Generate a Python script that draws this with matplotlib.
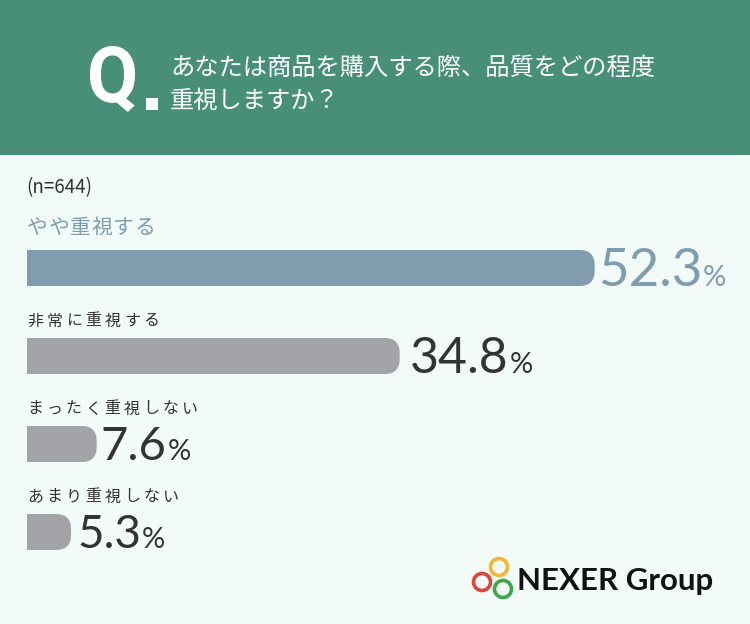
import matplotlib
matplotlib.use("Agg")
import matplotlib.pyplot as plt
from matplotlib.patches import FancyBboxPatch, Rectangle, Circle, PathPatch
from matplotlib.textpath import TextPath
from matplotlib.font_manager import FontProperties
from matplotlib.transforms import Affine2D

plt.rcParams['font.family'] = ['Noto Sans CJK JP', 'DejaVu Sans']

# data
categories = ["やや重視する", "非常に重視する", "まったく重視しない", "あまり重視しない"]
values = [52.3, 34.8, 7.6, 5.3]
question = ["あなたは商品を購入する際、品質をどの程度", "重視しますか？"]
n_label = "(n=644)"

# colours
GREEN = "#478F78"
BG = "#F2FBF8"
BLUE = "#809DB0"
GRAY = "#A2A3A7"
DARK = "#333333"

W, H = 750, 624
fig = plt.figure(figsize=(W / 100, H / 100), dpi=100)
fig.patch.set_facecolor(BG)

# decoration layer in pixel coordinates
deco = fig.add_axes([0, 0, 1, 1])
deco.set_xlim(0, W)
deco.set_ylim(H, 0)
deco.axis("off")
deco.add_patch(Rectangle((0, 0), W, 155, color=GREEN, lw=0))

# condensed "Q"
qpath = TextPath((0, 0), "Q", size=80, prop=FontProperties(family="Roboto", weight="bold"))
qb = qpath.get_extents()
sx = 45 / qb.width
sy = 66 / qb.height
qtr = Affine2D().translate(-qb.x0, -qb.y0).scale(sx, -sy).translate(90, 112)
deco.add_patch(PathPatch(qtr.transform_path(qpath), fc="white", ec="none"))
deco.add_patch(Rectangle((146, 98), 12, 12, color="white", lw=0))

deco.text(170, 68, question[0], color="white", fontsize=17.5, va="center", ha="left")
deco.text(170, 101, question[1], color="white", fontsize=17.5, va="center", ha="left")
deco.text(26, 188, n_label, color=DARK, fontsize=13.5, va="center", ha="left")

# logo
for (cx, cy, c) in [(482, 582, "#E0443A"), (499, 567, "#F4B731"), (503, 589, "#3DA84A")]:
    deco.add_patch(Circle((cx, cy), 8.5, fill=False, ec=c, lw=2.6))
deco.text(517, 581, "NEXER Group", color="#111111", fontsize=22.5, fontweight="bold",
          family=["Lato", "DejaVu Sans"], va="center", ha="left")

# bar chart axes
px_x = 11.14          # pixels per percent
x0_px = 12            # pixel where 0% sits
row_px = 88           # pixels between bars
ax_left, ax_right = 27, 750
ax_top, ax_bot = 200, 575
ax = fig.add_axes([ax_left / W, (H - ax_bot) / H, (ax_right - ax_left) / W, (ax_bot - ax_top) / H])
ax.set_facecolor("none")
ax.axis("off")
xmin = (ax_left - x0_px) / px_x
ax.set_xlim(xmin, xmin + (ax_right - ax_left) / px_x)
c0 = 268  # pixel centre of first bar
ax.set_ylim((ax_bot - c0) / row_px, (ax_top - c0) / row_px)

bar_h = 36 / row_px
r_px = 15
aspect = px_x / row_px
num_sizes = [38, 36, 34, 33]
num_gap = [3, 10, 4, 6]

def spaced_text(x, y, s, adv, **kw):
    for i, ch in enumerate(s):
        ax.annotate(ch, xy=(x, y), xytext=(i * adv, 0), textcoords="offset pixels",
                    annotation_clip=False, **kw)

for i, (cat, v) in enumerate(zip(categories, values)):
    top = i == 0
    col = BLUE if top else GRAY
    tcol = BLUE if top else DARK
    patch = FancyBboxPatch((0, i - bar_h / 2), v, bar_h,
                           boxstyle=f"round,pad=0,rounding_size={r_px / px_x}",
                           mutation_aspect=aspect, fc=col, ec="none")
    ax.add_patch(patch)
    # category label
    if top:
        spaced_text(xmin, i - 40 / row_px, cat, 21.5, color=tcol, fontsize=15,
                    va="center", ha="left")
    else:
        spaced_text(xmin, i - 35 / row_px, cat, 19.4, color=tcol, fontsize=11.5,
                    va="center", ha="left")
    # value label
    fs = num_sizes[i]
    base = i + (fs / 2 - 1) / row_px
    t = ax.text(v + num_gap[i] / px_x, base, f"{v:.1f}", color=tcol, fontsize=fs,
                family=["Lato", "DejaVu Sans"], va="baseline", ha="left")
    ax.annotate("%", xy=(1, base), xycoords=(t, "data"), xytext=(1, 0),
                textcoords="offset pixels", color=tcol, fontsize=21,
                family=["Lato", "DejaVu Sans"], va="baseline", ha="left")

fig.savefig("out.png", dpi=100, facecolor=BG)
